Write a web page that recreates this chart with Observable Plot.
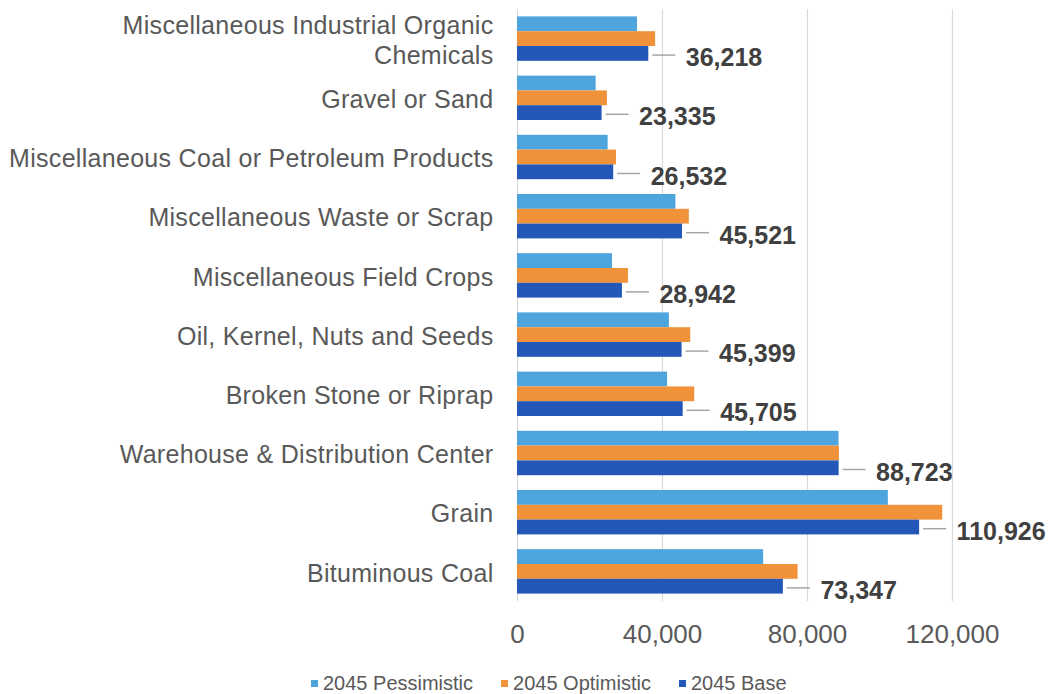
<!DOCTYPE html>
<html>
<head>
<meta charset="utf-8">
<script src="https://cdn.jsdelivr.net/npm/d3@7"></script>
<script src="https://cdn.jsdelivr.net/npm/@observablehq/plot@0.6"></script>
<style>
  html, body { margin: 0; padding: 0; background: #fff; overflow: hidden; }
  body { font-family: "Liberation Sans", Arial, sans-serif; width: 1050px; }
  #legend { display: flex; align-items: center; height: 36px; padding-left: 311px; font-size: 20px; color: #595959; }
  #legend .item { display: flex; align-items: center; margin-right: 28px; }
  #legend .sw { width: 7px; height: 7px; margin-right: 5px; }
</style>
</head>
<body>
<div id="chart"></div>
<div id="legend"></div>
<script>
const categories = [
  "Miscellaneous Industrial Organic\nChemicals",
  "Gravel or Sand",
  "Miscellaneous Coal or Petroleum Products",
  "Miscellaneous Waste or Scrap",
  "Miscellaneous Field Crops",
  "Oil, Kernel, Nuts and Seeds",
  "Broken Stone or Riprap",
  "Warehouse & Distribution Center",
  "Grain",
  "Bituminous Coal"
];
const seriesNames = ["2045 Pessimistic", "2045 Optimistic", "2045 Base"];
const seriesColors = ["#4EA5DD", "#F0923A", "#2357B8"];
const pessimistic = [33100, 21700, 25000, 43700, 26200, 41900, 41400, 88700, 102300, 67900];
const optimistic  = [38100, 24800, 27300, 47400, 30600, 47800, 48900, 88800, 117300, 77400];
const base        = [36218, 23335, 26532, 45521, 28942, 45399, 45705, 88723, 110926, 73347];
const xTicks = [0, 40000, 80000, 120000];

const seriesValues = [pessimistic, optimistic, base];
const rows = seriesNames.map((s, i) => categories.map((c, j) => ({series: s, category: c, value: seriesValues[i][j]})));

const W = 1050, H = 665, mTop = 9, mBottom = 64, mLeft = 517, mRight = 25.5;
const paddingInner = 0.25, paddingOuter = 0.125;
const step = (H - mTop - mBottom) / (categories.length - paddingInner + 2 * paddingOuter);
const bw = step * (1 - paddingInner);
const sub = bw / 3;

const fmt = d3.format(",");

const marks = [
  Plot.gridX(xTicks, {stroke: "#D9D9D9", strokeOpacity: 1, strokeWidth: 1.2}),
  ...rows.map((data, i) => Plot.barX(data, {
    x: "value", y: "category", fill: seriesColors[i],
    insetTop: i * sub, insetBottom: (2 - i) * sub
  })),
  Plot.ruleY(rows[2], {y: "category", x1: "value", x2: "value", insetLeft: 4, insetRight: -27, dy: 16, stroke: "#A6A6A6", strokeWidth: 1.5}),
  Plot.text(rows[2], {x: "value", y: "category", text: d => fmt(d.value), dx: 37, dy: 19, textAnchor: "start", fontSize: 25, fontWeight: "bold", fill: "#404040"}),
  Plot.axisY({tickSize: 0, tickPadding: 24, fontSize: 25, lineHeight: 1.2, label: null}),
  Plot.axisX({ticks: xTicks, tickFormat: fmt, tickSize: 0, tickPadding: 23, fontSize: 26, label: null})
];

const chart = Plot.plot({
  width: W, height: H,
  marginTop: mTop, marginBottom: mBottom, marginLeft: mLeft, marginRight: mRight,
  style: {fontFamily: "Liberation Sans, Arial, sans-serif", color: "#595959", background: "#fff", overflow: "visible"},
  x: {domain: [0, 140000]},
  y: {domain: categories, paddingInner, paddingOuter, round: false},
  marks
});
document.getElementById("chart").appendChild(chart);
d3.select(chart).selectAll('g[aria-label="y-axis tick label"]').style("letter-spacing", "0.3px");

const legend = document.getElementById("legend");
seriesNames.forEach((s, i) => {
  const item = document.createElement("div");
  item.className = "item";
  const sw = document.createElement("span");
  sw.className = "sw";
  sw.style.background = seriesColors[i];
  const t = document.createElement("span");
  t.textContent = s;
  item.appendChild(sw); item.appendChild(t);
  legend.appendChild(item);
});
</script>
</body>
</html>
